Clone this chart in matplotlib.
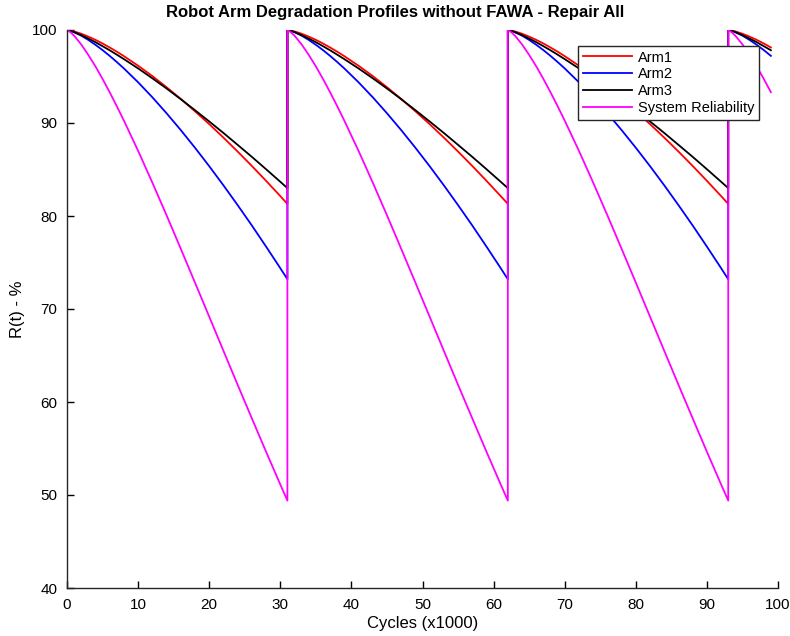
import matplotlib
matplotlib.use("Agg")
import matplotlib.pyplot as plt
import numpy as np

# age since last repair (x1000 cycles) and reliability readings (%)
age = [0, 0.5, 1, 2, 3, 4, 5, 6, 7, 8, 10, 12, 14, 16, 18, 20, 22, 24, 26,
       28, 30, 31]
arm1 = [100, 99.94, 99.85, 99.60, 99.29, 98.94, 98.55, 98.12, 97.67, 97.19,
        96.16, 95.05, 93.85, 92.59, 91.26, 89.88, 88.43, 86.93, 85.38, 83.78,
        82.14, 81.30]
arm2 = [100, 99.91, 99.77, 99.39, 98.93, 98.41, 97.84, 97.22, 96.56, 95.87,
        94.38, 92.77, 91.05, 89.24, 87.34, 85.36, 83.30, 81.17, 78.98, 76.71,
        74.39, 73.20]
arm3 = [100, 99.90, 99.77, 99.45, 99.08, 98.69, 98.26, 97.82, 97.35, 96.87,
        95.87, 94.81, 93.71, 92.56, 91.38, 90.17, 88.93, 87.65, 86.36, 85.03,
        83.68, 83.00]
system = [100, 99.75, 99.39, 98.45, 97.32, 96.09, 94.74, 93.31, 91.81, 90.26,
          87.01, 83.60, 80.08, 76.48, 72.84, 69.18, 65.51, 61.85, 58.24, 54.65,
          51.13, 49.40]

repair_at = [0, 31, 62, 93]
end_cycle = 99

series = [
    ("Arm1", arm1, "#ff0000"),
    ("Arm2", arm2, "#0000ff"),
    ("Arm3", arm3, "#000000"),
    ("System Reliability", system, "#ff00ff"),
]


def build(values):
    """Stitch repeated repair segments into one trace."""
    xs, ys = [], []
    for start in repair_at:
        for a, v in zip(age, values):
            if start + a > end_cycle:
                break
            xs.append(start + a)
            ys.append(v)
    return xs, ys


plt.rcParams["font.family"] = ["Liberation Sans", "DejaVu Sans"]

fig = plt.figure(figsize=(7.9, 6.36), dpi=100)
ax = fig.add_axes([67 / 790, 1 - 588 / 636, 711 / 790, 558 / 636])

for name, vals, col in series:
    xs, ys = build(vals)
    ax.plot(xs, ys, color=col, lw=1.3, label=name)

ax.set_xlim(0, 100)
ax.set_ylim(40, 100)
ax.set_xticks(range(0, 101, 10))
ax.set_yticks(range(40, 101, 10))
ax.tick_params(direction="in", length=5, width=1, labelsize=11)
ax.tick_params(axis="x", pad=7)
ax.tick_params(axis="y", pad=7)
for side in ("top", "right"):
    ax.spines[side].set_visible(False)
for side in ("left", "bottom"):
    ax.spines[side].set_linewidth(1.0)
    ax.spines[side].set_color("#262626")

fig.text(0.5, 1 - 13 / 636, "Robot Arm Degradation Profiles without FAWA - Repair All",
         ha="center", va="center", fontsize=12, fontweight="bold")
ax.set_xlabel("Cycles (x1000)", fontsize=12, labelpad=3)
ax.set_ylabel("R(t) - %", fontsize=12, labelpad=5)

leg = ax.legend(loc="upper right", bbox_to_anchor=(0.973, 0.971),
                fontsize=10.5, fancybox=False, framealpha=1, edgecolor="#262626",
                handlelength=3.4, handletextpad=0.4, labelspacing=0.2,
                borderpad=0.3, borderaxespad=0)
leg.get_frame().set_linewidth(1.0)

fig.savefig("out.png", dpi=100)
